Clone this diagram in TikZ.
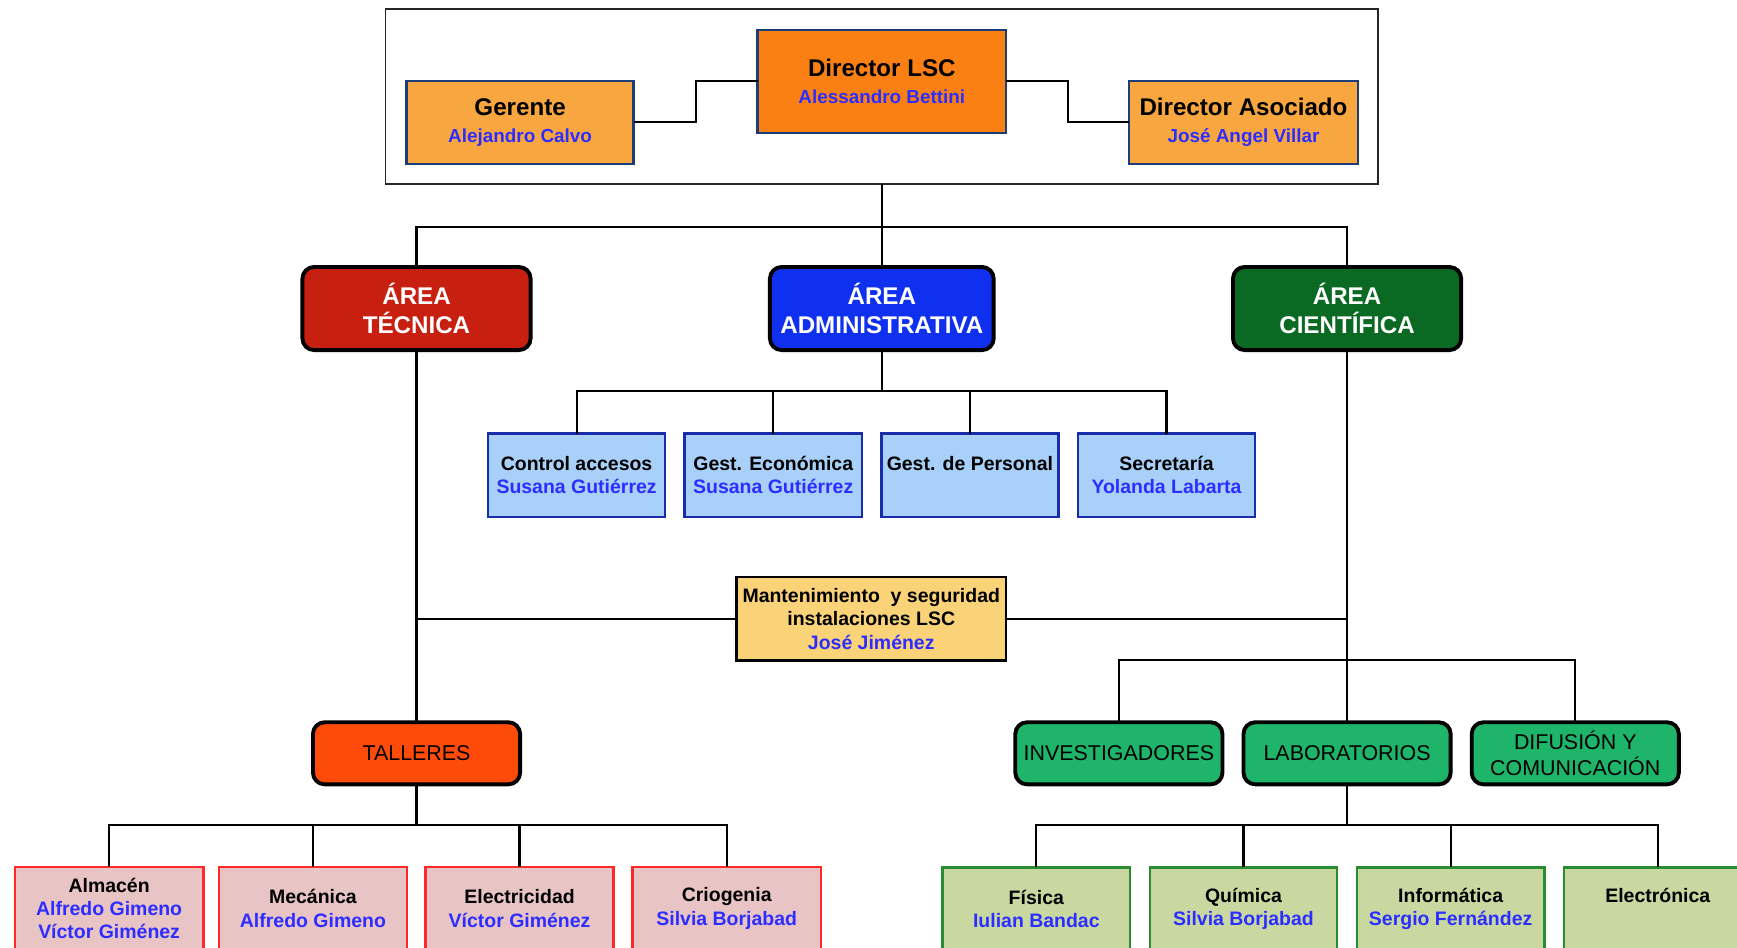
\documentclass[tikz,border=0pt]{standalone}
\usepackage{fontspec}
\setmainfont{Liberation Sans}
\usetikzlibrary{positioning,calc}
\definecolor{dirorange}{RGB}{250,128,20}
\definecolor{lightorange}{RGB}{247,166,64}
\definecolor{navyline}{RGB}{30,60,120}
\definecolor{tecred}{RGB}{200,32,16}
\definecolor{admblue}{RGB}{16,48,240}
\definecolor{ciegreen}{RGB}{10,105,35}
\definecolor{admfill}{RGB}{168,208,248}
\definecolor{admline}{RGB}{25,45,170}
\definecolor{mantfill}{RGB}{250,210,120}
\definecolor{talred}{RGB}{255,75,10}
\definecolor{cieteal}{RGB}{30,180,105}
\definecolor{talfill}{RGB}{232,196,196}
\definecolor{talline}{RGB}{255,40,40}
\definecolor{labfill}{RGB}{200,216,160}
\definecolor{labline}{RGB}{40,140,50}
\definecolor{nomblue}{RGB}{45,45,255}
\newcommand{\nom}[1]{{\color{nomblue}#1}}
\tikzset{box/.style={draw, line width=1.3pt, align=center, inner sep=1pt, outer sep=0pt, minimum height=15mm, font=\bfseries\fontsize{10}{12}\selectfont}}
\tikzset{jefe/.style={box, draw=navyline, font=\bfseries\fontsize{12.4}{13.7}\selectfont}}
\tikzset{area/.style={box, draw=black, line width=2pt, rounded corners=6pt, text=white, minimum width=41.2mm, font=\bfseries\fontsize{12.4}{14.8}\selectfont}}
\tikzset{admbox/.style={box, draw=admline, fill=admfill, minimum width=32mm}}
\tikzset{talbox/.style={box, draw=talline, fill=talfill, minimum width=34mm}}
\tikzset{labbox/.style={box, draw=labline, fill=labfill, minimum width=33.8mm}}
\tikzset{sub/.style={box, draw=black, line width=2pt, rounded corners=6pt, minimum height=11.2mm, minimum width=37.4mm, font=\fontsize{11}{13.7}\selectfont}}
\tikzset{lin/.style={draw, line width=1.1pt}}
\begin{document}
\begin{tikzpicture}[x=0.2mm, y=-0.2mm]
\useasboundingbox (0,0) rectangle (1568,855);
\clip (0,0) rectangle (1568,855);
% direccion
\node[draw=black!85, line width=0.8pt, minimum width=179.2mm, minimum height=31.6mm, outer sep=0pt] (F) at (796,87) {};
\node[jefe, fill=dirorange, minimum width=44.8mm, minimum height=18.6mm] (D) at (796,73.5) {Director LSC\\\nom{\fontsize{9.7}{13.7}\selectfont Alessandro Bettini}};
\node[jefe, fill=lightorange, minimum width=41mm] (G) at (469.5,110.5) {Gerente\\\nom{\fontsize{9.7}{13.7}\selectfont Alejandro Calvo}};
\node[jefe, fill=lightorange, minimum width=41.4mm] (DA) at (1122.5,110.5) {Director Asociado\\\nom{\fontsize{9.7}{13.7}\selectfont José Angel Villar}};
\draw[lin] (G.east) -- ++(56,0) |- (D.west);
\draw[lin] (D.east) -- ++(56,0) |- (DA.west);
% areas
\node[area, fill=tecred] (AT) at (376,278.5) {ÁREA\\TÉCNICA};
\node[area, fill=admblue, minimum width=40.4mm] (AA) at (796,278.5) {ÁREA\\ADMINISTRATIVA};
\node[area, fill=ciegreen] (AC) at (1216,278.5) {ÁREA\\CIENTÍFICA};
\coordinate (B1) at (796,205);
\draw[lin] (F.south) -- (AA.north);
\draw[lin] (AT.north) |- (B1) -| (AC.north);
% administracion
\node[admbox] (CA) at (520.5,429) {Control accesos\\\nom{Susana Gutiérrez}};
\node[admbox, right=3.5mm of CA] (GE) {Gest. Económica\\\nom{Susana Gutiérrez}};
\node[admbox, right=3.5mm of GE] (GP) {Gest. de Personal\\\vphantom{Susana Gutiérrez}};
\node[admbox, right=3.5mm of GP] (SE) {Secretaría\\\nom{Yolanda Labarta}};
\coordinate (B2) at (796,353);
\draw[lin] (AA.south) -- (B2);
\draw[lin] (CA.north) |- (B2) -| (SE.north);
\draw[lin] (GE.north) -- (GE.north |- B2);
\draw[lin] (GP.north) -- (GP.north |- B2);
% mantenimiento
\node[box, draw=black, fill=mantfill, minimum width=48.6mm] (M) at (786.5,558.5) {Mantenimiento\ \ y seguridad\\instalaciones LSC\\\nom{José Jiménez}};
\node[sub, fill=talred] (T) at (376,680) {TALLERES};
\draw[lin] (AT.south) -- (T.north);
\draw[lin] (M.west) -- (M.west -| AT.south);
\draw[lin] (M.east) -- (M.east -| AC.south);
% cientifica
\node[sub, fill=cieteal] (LAB) at (1216,680) {LABORATORIOS};
\node[sub, fill=cieteal, left=3.8mm of LAB] (INV) {INVESTIGADORES};
\node[sub, fill=cieteal, right=3.8mm of LAB] (DIF) {DIFUSIÓN Y\\COMUNICACIÓN};
\coordinate (B3) at (1216,596);
\draw[lin] (AC.south) -- (LAB.north);
\draw[lin] (INV.north) |- (B3) -| (DIF.north);
% talleres
\node[talbox] (ALM) at (98.5,820) {Almacén\\\nom{Alfredo Gimeno}\\\nom{Víctor Giménez}};
\node[talbox] (MEC) at (282.5,820) {Mecánica\\\nom{Alfredo Gimeno}};
\node[talbox] (ELE) at (469,820) {Electricidad\\\nom{Víctor Giménez}};
\node[talbox] (CRI) at (656,820) {Criogenia\\\nom{Silvia Borjabad}};
\coordinate (B4) at (376,745);
\draw[lin] (T.south) -- (B4);
\draw[lin] (ALM.north) |- (B4) -| (CRI.north);
\draw[lin] (MEC.north) -- (MEC.north |- B4);
\draw[lin] (ELE.north) -- (ELE.north |- B4);
% laboratorios
\node[labbox] (FIS) at (935.5,820.5) {Física\\\nom{Iulian Bandac}};
\node[labbox, right=3.6mm of FIS] (QUI) {Química\\\nom{Silvia Borjabad}};
\node[labbox, right=3.6mm of QUI] (INF) {Informática\\\nom{Sergio Fernández}};
\node[labbox, right=3.6mm of INF] (ELC) {Electrónica\\\vphantom{Sergio Fernández}};
\coordinate (B5) at (1216,745);
\draw[lin] (LAB.south) -- (B5);
\draw[lin] (FIS.north) |- (B5) -| (ELC.north);
\draw[lin] (QUI.north) -- (QUI.north |- B5);
\draw[lin] (INF.north) -- (INF.north |- B5);
\end{tikzpicture}
\end{document}
